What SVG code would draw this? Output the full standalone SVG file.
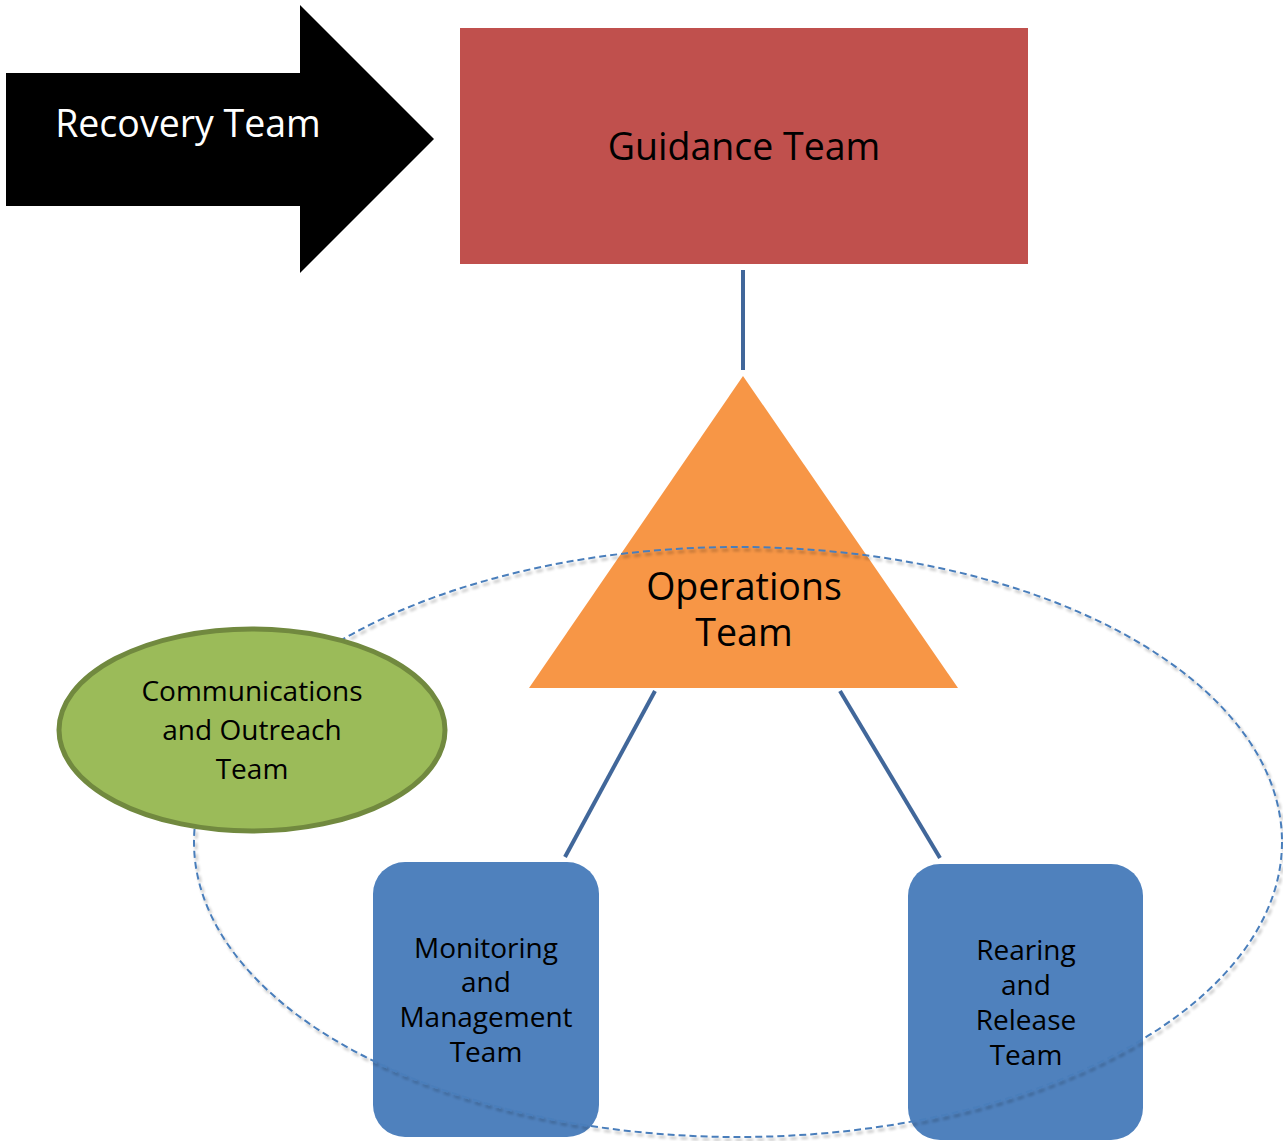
<svg xmlns="http://www.w3.org/2000/svg" width="1283" height="1141" viewBox="0 0 1283 1141">
  <style>
    .lbl { font-family: "Open Sans", Lato, "Liberation Sans", sans-serif; text-anchor: middle; fill: #000; font-variant-ligatures: none; }
    .big { font-size: 37.5px; }
    .mid { font-size: 28px; }
    .link { stroke: #41679A; stroke-width: 4; fill: none; }
    .team { fill: #4F81BD; }
  </style>
  <defs>
    <filter id="soft-shadow" x="-5%" y="-5%" width="110%" height="115%">
      <feGaussianBlur in="SourceAlpha" stdDeviation="1.5"/>
      <feOffset dx="2" dy="3" result="off"/>
      <feComponentTransfer><feFuncA type="linear" slope="0.3"/></feComponentTransfer>
      <feMerge><feMergeNode/><feMergeNode in="SourceGraphic"/></feMerge>
    </filter>
  </defs>

  <!-- Recovery Team arrow -->
  <g id="recovery-team">
    <polygon points="6,73 300,73 300,5 434,139 300,273 300,206 6,206" fill="#000"/>
    <text class="lbl big" x="188" y="137" style="fill:#fff">Recovery Team</text>
  </g>

  <!-- Guidance Team -->
  <g id="guidance-team">
    <rect x="460" y="28" width="568" height="236" fill="#C0504D"/>
    <text class="lbl big" x="744" y="160">Guidance Team</text>
  </g>

  <!-- Operations Team -->
  <g id="operations-team">
    <polygon points="743,376 958,688 529,688" fill="#F79646"/>
    <text class="lbl big" x="744" y="600">Operations</text>
    <text class="lbl big" x="744" y="646">Team</text>
  </g>

  <!-- Sub-teams -->
  <g id="monitoring-team">
    <rect class="team" x="373" y="862" width="226" height="275" rx="32"/>
    <text class="lbl mid" x="486" y="958">Monitoring</text>
    <text class="lbl mid" x="486" y="992">and</text>
    <text class="lbl mid" x="486" y="1027">Management</text>
    <text class="lbl mid" x="486" y="1062">Team</text>
  </g>
  <g id="rearing-team">
    <rect class="team" x="908" y="864" width="235" height="276" rx="32"/>
    <text class="lbl mid" x="1026" y="960">Rearing</text>
    <text class="lbl mid" x="1026" y="995">and</text>
    <text class="lbl mid" x="1026" y="1030">Release</text>
    <text class="lbl mid" x="1026" y="1065">Team</text>
  </g>

  <!-- Connectors -->
  <g id="connectors">
    <line class="link" x1="743" y1="270" x2="743" y2="370"/>
    <line class="link" x1="655" y1="691" x2="565" y2="857"/>
    <line class="link" x1="840" y1="691" x2="940" y2="858"/>
  </g>

  <!-- Dashed boundary of the operations group -->
  <g id="operations-boundary" filter="url(#soft-shadow)">
    <ellipse cx="738" cy="842" rx="544" ry="295" fill="none" stroke="#4A7EBB" stroke-width="2" stroke-dasharray="7,4"/>
  </g>

  <!-- Communications and Outreach Team -->
  <g id="communications-team">
    <ellipse cx="252" cy="730" rx="193" ry="101" fill="#9BBB59" stroke="#71893F" stroke-width="5"/>
    <text class="lbl mid" x="252" y="701">Communications</text>
    <text class="lbl mid" x="252" y="740">and Outreach</text>
    <text class="lbl mid" x="252" y="779">Team</text>
  </g>
</svg>
